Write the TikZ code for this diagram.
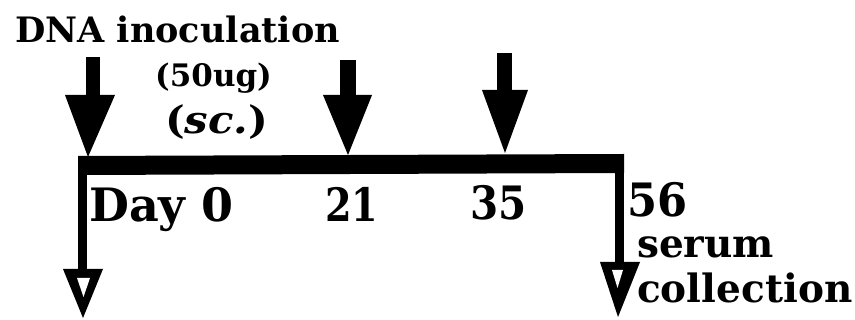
\documentclass[tikz,border=0pt]{standalone}
\usepackage{fontspec}
\setmainfont{DejaVu Serif}
\begin{document}
\begin{tikzpicture}[x=1pt,y=-1pt,
  lbl/.style={anchor=base west,inner sep=0pt,font=\bfseries},
  blk/.style={fill=black,draw=none}]
\useasboundingbox (0,0) rectangle (855,320);
% timeline bar and verticals
\fill[blk] (78,156) -- (624,154) -- (624,173) -- (78,175) -- cycle;
\fill[blk] (78,156) rectangle (87,272);
\fill[blk] (615,160) rectangle (624,264);
% hollow heads (serum collection)
\coordinate (hl1) at (63,269); \coordinate (hr1) at (103,269); \coordinate (ht1) at (83,318);
\fill[blk] (hl1) -- (hr1) -- (ht1) -- cycle;
\fill[white] (77,278) -- (90,278) -- (83.5,297) -- cycle;
\coordinate (hl2) at (600,262); \coordinate (hr2) at (640,262); \coordinate (ht2) at (618,317);
\fill[blk] (hl2) -- (hr2) -- (ht2) -- cycle;
\fill[white] (612,270) -- (623,270) -- (617.5,288) -- cycle;
% inoculation arrows
\fill[blk] (86,57) rectangle (100,96);
\fill[blk] (65,95) -- (115,95) -- (88,157) -- cycle;
\fill[blk] (340,60) rectangle (356,96);
\fill[blk] (323,95) -- (372,95) -- (348,155) -- cycle;
\fill[blk] (497,53) rectangle (512,91);
\fill[blk] (482,90) -- (528,90) -- (505,153) -- cycle;
% labels
\node[lbl,font=\bfseries\fontsize{35}{35}\selectfont] (dna) at (15,43) {DNA inoculation};
\node[lbl,font=\bfseries\fontsize{31}{31}\selectfont] (dose) at (155,87) {(50ug)};
\node[lbl,font=\bfseries\fontsize{38}{38}\selectfont] (route) at (165,134) {\scalebox{1.1}[1]{(\textit{sc.})}};
\node[lbl,font=\bfseries\fontsize{46}{46}\selectfont] (d0) at (89,222) {Day 0};
\node[lbl,font=\bfseries\fontsize{46}{46}\selectfont] (d21) at (325,222) {\scalebox{0.83}[1]{21}};
\node[lbl,font=\bfseries\fontsize{46}{46}\selectfont] (d35) at (470,220) {\scalebox{0.88}[1]{35}};
\node[lbl,font=\bfseries\fontsize{46}{46}\selectfont] (d56) at (627,217) {\scalebox{0.94}[1]{56}};
\node[lbl,font=\bfseries\fontsize{39}{39}\selectfont] (serum) at (637,258) {serum};
\node[lbl,font=\bfseries\fontsize{39}{39}\selectfont] (coll) at (637,303) {collection};
\end{tikzpicture}
\end{document}
